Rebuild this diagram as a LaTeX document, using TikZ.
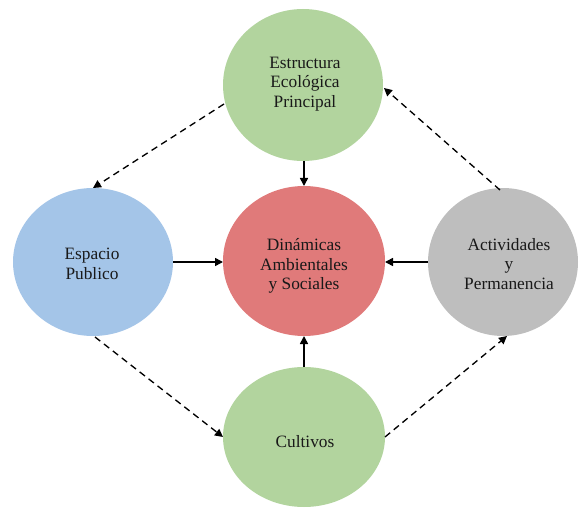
\documentclass[tikz,border=0pt]{standalone}
\usepackage{fontspec}
\setmainfont{Liberation Serif}
\usetikzlibrary{arrows.meta}
\definecolor{cgreen}{RGB}{178,212,158}
\definecolor{cblue}{RGB}{164,197,232}
\definecolor{cred}{RGB}{224,122,122}
\definecolor{cgray}{RGB}{190,190,190}
\begin{document}
\begin{tikzpicture}[x=0.75pt,y=-0.75pt,
  lbl/.style={align=center, inner sep=0pt, font=\fontsize{13}{14.5}\selectfont, text=black!90},
  solidarr/.style={draw=black, line width=1.2pt, -{Triangle[length=6pt,width=6pt]}},
  dasharr/.style={draw=black, line width=1pt, dash pattern=on 5pt off 3.5pt, -{Triangle[length=6pt,width=6pt]}}]
\useasboundingbox (0,0) rectangle (579,510);
\fill[cgreen] (303,85) ellipse [x radius=80, y radius=76];
\fill[cblue] (93,262) ellipse [x radius=80, y radius=74];
\fill[cred] (304,261) ellipse [x radius=81, y radius=75];
\fill[cgray] (503,262) ellipse [x radius=75, y radius=74];
\fill[cgreen] (304,437) ellipse [x radius=81, y radius=70];
\node[lbl] (eep) at (305,84) {Estructura\\Ecológica\\Principal};
\node[lbl] (ep) at (92,264) {Espacio\\Publico};
\node[lbl] (das) at (304,266) {Dinámicas\\Ambientales\\y Sociales};
\node[lbl] (ayp) at (509,264) {Actividades\\y\\Permanencia};
\node[lbl] (cul) at (305,442) {Cultivos};
\coordinate (eepB) at (304,161);
\coordinate (eepL) at (224,104);
\coordinate (eepR) at (384,88);
\coordinate (dasT) at (304,186);
\coordinate (dasL) at (223,262);
\coordinate (dasR) at (385,262);
\coordinate (dasB) at (304,336);
\coordinate (epR) at (173,262);
\coordinate (epT) at (93,188);
\coordinate (epB) at (95,337);
\coordinate (aypL) at (428,262);
\coordinate (aypT) at (500,190);
\coordinate (aypB) at (507,336);
\coordinate (culT) at (304,367);
\coordinate (culL) at (223,437);
\coordinate (culR) at (385,437);
\draw[solidarr] (eepB) -- (dasT);
\draw[solidarr] (epR) -- (dasL);
\draw[solidarr] (aypL) -- (dasR);
\draw[solidarr] (culT) -- (dasB);
\draw[dasharr] (eepL) -- (epT);
\draw[dasharr] (epB) -- (culL);
\draw[dasharr] (culR) -- (aypB);
\draw[dasharr] (aypT) -- (eepR);
\end{tikzpicture}
\end{document}
